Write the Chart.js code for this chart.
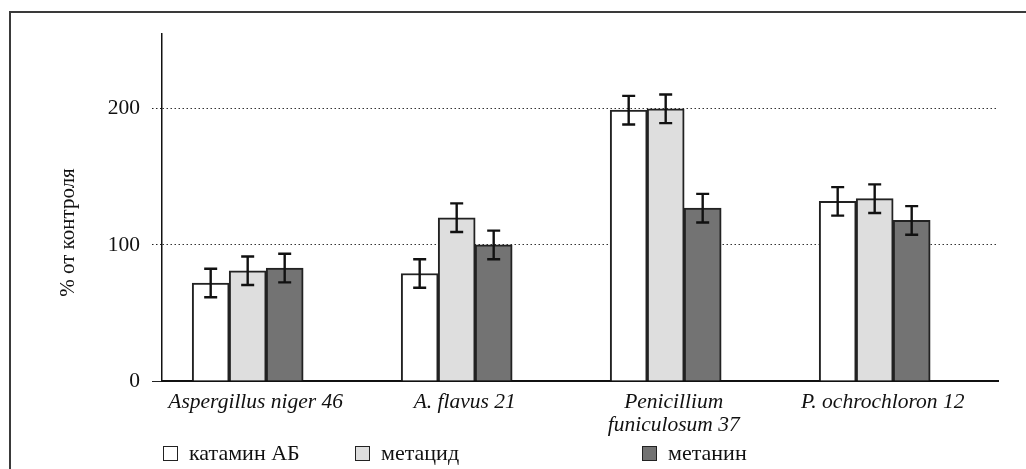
<!DOCTYPE html>
<html>
<head>
<meta charset="utf-8">
<script src="https://cdn.jsdelivr.net/npm/chart.js@4"></script>
<style>
    body { margin: 0; background: #fff; }
    .wrap { position: relative; width: 1026px; height: 469px; overflow: hidden; }
    .frame { position: absolute; left: 9px; top: 11px; width: 1100px; height: 500px;
             border-left: 2px solid #3a3a3a; border-top: 2px solid #3a3a3a; }
    canvas { position: absolute; left: 0; top: 0; }
    .legend { position: absolute; top: 440px; font: 22px "Liberation Serif", serif; color: #111; }
    .legend span.item { position: absolute; white-space: nowrap; display: flex; align-items: center; }
    .legend i { display: inline-block; width: 13px; height: 13px; border: 1.5px solid #222; margin-right: 11px; }
</style>
</head>
<body>
<div class="wrap">
    <div class="frame"></div>
    <canvas id="chart" width="1026" height="469"></canvas>
    <div class="legend" id="legend"></div>
</div>
<script>
const categories = ['Aspergillus niger 46', 'A. flavus 21', ['Penicillium', 'funiculosum 37'], 'P. ochrochloron 12'];
const seriesNames = ['катамин АБ', 'метацид', 'метанин'];
const katamin = [72, 79, 199, 132];
const metacid = [81, 120, 200, 134];
const metanin = [83, 100, 127, 118];
const kataminErr = [10.5, 10.5, 10.5, 10.5];
const metacidErr = [10.5, 10.5, 10.5, 10.5];
const metaninErr = [10.5, 10.5, 10.5, 10.5];
const yTicks = [0, 100, 200];

const colors = ['#ffffff', '#dedede', '#737373'];
const legendLeft = [163, 355, 642];
const serif = '"Liberation Serif", serif';

function toPoints(values) {
    return values.map((v, i) => ({ x: i, y: v }));
}

// whiskers drawn on top of the bars, using the y scale
const errorBars = {
    id: 'errorBars',
    afterDatasetsDraw(chart) {
        const ctx = chart.ctx;
        const yScale = chart.scales.y;
        ctx.save();
        ctx.strokeStyle = '#111';
        ctx.lineWidth = 2.4;
        chart.data.datasets.forEach((ds, di) => {
            const meta = chart.getDatasetMeta(di);
            meta.data.forEach((bar, i) => {
                const v = ds.data[i].y;
                const e = ds.errors[i];
                const top = yScale.getPixelForValue(v + e);
                const bottom = yScale.getPixelForValue(v - e);
                const x = bar.x;
                ctx.beginPath();
                ctx.moveTo(x, top); ctx.lineTo(x, bottom);
                ctx.moveTo(x - 6.5, top); ctx.lineTo(x + 6.5, top);
                ctx.moveTo(x - 6.5, bottom); ctx.lineTo(x + 6.5, bottom);
                ctx.stroke();
            });
        });
        ctx.restore();
    }
};

const yTitle = {
    id: 'yTitle',
    afterDraw(chart) {
        const ctx = chart.ctx;
        const area = chart.chartArea;
        ctx.save();
        ctx.translate(68, (area.top + area.bottom) / 2 + 25);
        ctx.rotate(-Math.PI / 2);
        ctx.font = '21px ' + serif;
        ctx.fillStyle = '#111';
        ctx.textAlign = 'center';
        ctx.textBaseline = 'middle';
        ctx.fillText('% от контроля', 0, 0);
        ctx.restore();
    }
};

document.addEventListener('DOMContentLoaded', () => {
    const values = [katamin, metacid, metanin];
    const errors = [kataminErr, metacidErr, metaninErr];

    new Chart(document.getElementById('chart'), {
        type: 'bar',
        data: {
            datasets: seriesNames.map((name, i) => ({
                label: name,
                data: toPoints(values[i]),
                errors: errors[i],
                backgroundColor: colors[i],
                borderColor: '#222',
                borderWidth: 2,
                barThickness: 37
            }))
        },
        plugins: [errorBars, yTitle],
        options: {
            responsive: false,
            animation: false,
            layout: { padding: { left: 0, top: 34, right: 28, bottom: 0 } },
            scales: {
                x: {
                    type: 'linear',
                    offset: false,
                    min: -0.41,
                    max: 3.59,
                    bounds: 'data',
                    afterBuildTicks: scale => {
                        scale.ticks = categories.map((c, i) => ({ value: i }));
                    },
                    afterFit: scale => { scale.height = 88; },
                    grid: { display: false, drawTicks: false, offset: false },
                    border: { display: true, color: '#111', width: 2 },
                    ticks: {
                        autoSkip: false,
                        maxRotation: 0,
                        padding: 10,
                        labelOffset: 8,
                        color: '#111',
                        font: { family: serif, size: 21.5, style: 'italic', lineHeight: 1.05 },
                        callback: value => categories[value]
                    }
                },
                y: {
                    min: 0,
                    max: 255,
                    afterBuildTicks: scale => {
                        scale.ticks = yTicks.map(v => ({ value: v }));
                    },
                    afterFit: scale => { scale.width = 162; },
                    grid: {
                        color: c => c.tick && c.tick.value === 0 ? 'rgba(0,0,0,0)' : '#333',
                        tickColor: '#222',
                        lineWidth: 1,
                        tickLength: 10,
                        tickBorderDash: c => c.tick && c.tick.value === 0 ? [] : [1.5, 2.5]
                    },
                    border: { display: true, color: '#111', width: 1.5, dash: [1.5, 2.5] },
                    ticks: {
                        padding: 12,
                        color: '#111',
                        font: { family: serif, size: 21.5 }
                    }
                }
            },
            plugins: {
                legend: { display: false },
                tooltip: { enabled: false }
            }
        }
    });

    const legend = document.getElementById('legend');
    seriesNames.forEach((name, i) => {
        const item = document.createElement('span');
        item.className = 'item';
        item.style.left = legendLeft[i] + 'px';
        item.innerHTML = '<i style="background:' + colors[i] + '"></i>' + name;
        legend.appendChild(item);
    });
});
</script>
</body>
</html>
